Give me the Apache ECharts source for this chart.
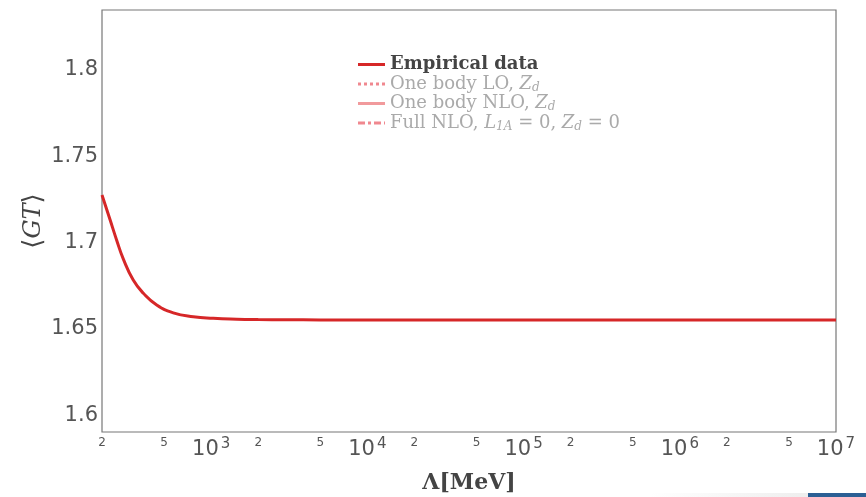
<!DOCTYPE html>
<html>
<head>
<meta charset="utf-8">
<script src="https://cdn.jsdelivr.net/npm/echarts@6/dist/echarts.min.js"></script>
<style>
  html, body { margin: 0; padding: 0; background: #fff; }
  #chart { width: 866px; height: 497px; }
</style>
</head>
<body>
<div id="chart"></div>
<script>
// Λ in MeV vs <GT>
const lambdaMeV = [200, 225, 248, 274, 317, 368, 448, 572, 768, 1030, 1460, 2000, 3000, 5000, 1e4, 1e5, 1e6, 1e7]
const gtEmpirical = [1.7275, 1.7133, 1.7015, 1.6904, 1.6783, 1.6706, 1.6638, 1.6593, 1.6570, 1.6561, 1.6556, 1.6554, 1.6553, 1.6552, 1.6552, 1.6552, 1.6552, 1.6552]

const legendNames = ['Empirical data', 'One body LO, Z_d', 'One body NLO, Z_d', 'Full NLO, L_1A = 0, Z_d = 0']
const xTickValues = [200, 500, 1000, 2000, 5000, 1e4, 2e4, 5e4, 1e5, 2e5, 5e5, 1e6, 2e6, 5e6, 1e7]
const yTickValues = [1.6, 1.65, 1.7, 1.75, 1.8]

const legendRich = [
  'Empirical data',
  'One body LO, {i|Z}{sub|d}',
  'One body NLO, {i|Z}{sub|d}',
  'Full NLO, {i|L}{sub|1A} = 0, {i|Z}{sub|d} = 0'
]

// line-style legend icons (solid, dotted, solid, dash-dot)
const iconSolid = 'path://M0,0h27v3h-27z'
const iconDot = 'path://M0,0h3v3h-3z M6,0h3v3h-3z M12,0h3v3h-3z M18,0h3v3h-3z M24,0h3v3h-3z'
const iconDashDot = 'path://M0,0h7v3h-7z M10,0h3v3h-3z M16,0h7v3h-7z M26,0h1v3h-1z'

const chart = echarts.init(document.getElementById('chart'))

const option = {
  backgroundColor: '#fff',
  animation: false,
  grid: {
    left: 102, right: 30, top: 10, bottom: 65,
    outerBoundsMode: 'none',
    show: true, borderColor: '#777', borderWidth: 1.2
  },
  legend: {
    orient: 'vertical',
    left: 358, top: 55, padding: 0,
    itemWidth: 27, itemHeight: 3, itemGap: 0.5,
    formatter: name => legendRich[legendNames.indexOf(name)],
    textStyle: {
      fontFamily: 'DejaVu Serif', fontSize: 18, color: '#aaa', lineHeight: 19,
      rich: {
        i: { fontFamily: 'DejaVu Serif', fontStyle: 'italic', fontSize: 18, color: '#aaa' },
        sub: { fontFamily: 'DejaVu Serif', fontStyle: 'italic', fontSize: 12, color: '#aaa', padding: [7, 0, 0, 0] }
      }
    },
    data: [
      { name: legendNames[0], icon: iconSolid, textStyle: { color: '#444', fontWeight: 'bold' } },
      { name: legendNames[1], icon: iconDot },
      { name: legendNames[2], icon: iconSolid },
      { name: legendNames[3], icon: iconDashDot }
    ]
  },
  xAxis: [
    {
      type: 'log', logBase: 10, min: 200, max: 1e7,
      axisLine: { show: false }, axisTick: { show: false },
      axisLabel: { show: false }, splitLine: { show: false },
      name: 'Λ[MeV]', nameLocation: 'middle', nameGap: 40,
      nameTextStyle: { fontFamily: 'DejaVu Serif', fontWeight: 'bold', fontSize: 22, color: '#444' }
    },
    {
      // label-only axis in log10 space for the 2 / 5 / 10^n labels
      type: 'value', min: Math.log10(200), max: 7, position: 'bottom',
      axisLine: { show: false }, axisTick: { show: false }, splitLine: { show: false },
      axisLabel: {
        customValues: xTickValues.map(v => Math.log10(v)),
        margin: 5,
        color: '#555',
        fontFamily: 'DejaVu Sans',
        formatter: v => {
          const e = Math.round(v)
          if (Math.abs(v - e) < 1e-6) return '{b|10}{p|' + e + '}'
          return '{s|' + Math.round(Math.pow(10, v - Math.floor(v))) + '}'
        },
        rich: {
          s: { fontSize: 12, color: '#555', fontFamily: 'DejaVu Sans', padding: [0, 0, 8, 0] },
          b: { fontSize: 21, color: '#555', fontFamily: 'DejaVu Sans' },
          p: { fontSize: 15, color: '#555', fontFamily: 'DejaVu Sans', padding: [0, 0, 10, 2] }
        }
      }
    }
  ],
  yAxis: {
    type: 'value', min: 1.5903, max: 1.8346,
    axisLine: { show: false }, axisTick: { show: false }, splitLine: { show: false },
    axisLabel: {
      customValues: yTickValues,
      margin: 4, color: '#555', fontSize: 21, fontFamily: 'DejaVu Sans'
    },
    name: '{a|⟨}{i|GT}{a|⟩}', nameLocation: 'middle', nameGap: 55, nameRotate: 90,
    nameMoveOverlap: false,
    nameTextStyle: {
      color: '#444',
      rich: {
        a: { fontFamily: 'DejaVu Serif', fontSize: 26, color: '#444' },
        i: { fontFamily: 'DejaVu Serif', fontStyle: 'italic', fontSize: 24, color: '#444' }
      }
    }
  },
  series: [
    {
      name: legendNames[0], type: 'line', xAxisIndex: 0, smooth: 0.5,
      showSymbol: false, symbol: 'none',
      lineStyle: { color: '#d62728', width: 3 }, itemStyle: { color: '#d62728' },
      data: lambdaMeV.map((x, i) => [x, gtEmpirical[i]])
    },
    {
      name: legendNames[1], type: 'line', xAxisIndex: 0, symbol: 'none', data: [],
      lineStyle: { color: '#f0888f', width: 3 }, itemStyle: { color: '#f0888f' }
    },
    {
      name: legendNames[2], type: 'line', xAxisIndex: 0, symbol: 'none', data: [],
      lineStyle: { color: '#f19a9c', width: 3 }, itemStyle: { color: '#f19a9c' }
    },
    {
      name: legendNames[3], type: 'line', xAxisIndex: 0, symbol: 'none', data: [],
      lineStyle: { color: '#f0888f', width: 3 }, itemStyle: { color: '#f0888f' }
    }
  ],
  graphic: [
    {
      type: 'rect', left: 650, top: 493, shape: { width: 158, height: 4 },
      style: { fill: new echarts.graphic.LinearGradient(0, 0, 1, 0, [
        { offset: 0, color: '#ffffff' }, { offset: 1, color: '#eeeeee' }
      ]) }
    },
    { type: 'rect', left: 808, top: 493, shape: { width: 58, height: 4 }, style: { fill: '#2b5f94' } }
  ]
}

chart.setOption(option)
</script>
</body>
</html>
